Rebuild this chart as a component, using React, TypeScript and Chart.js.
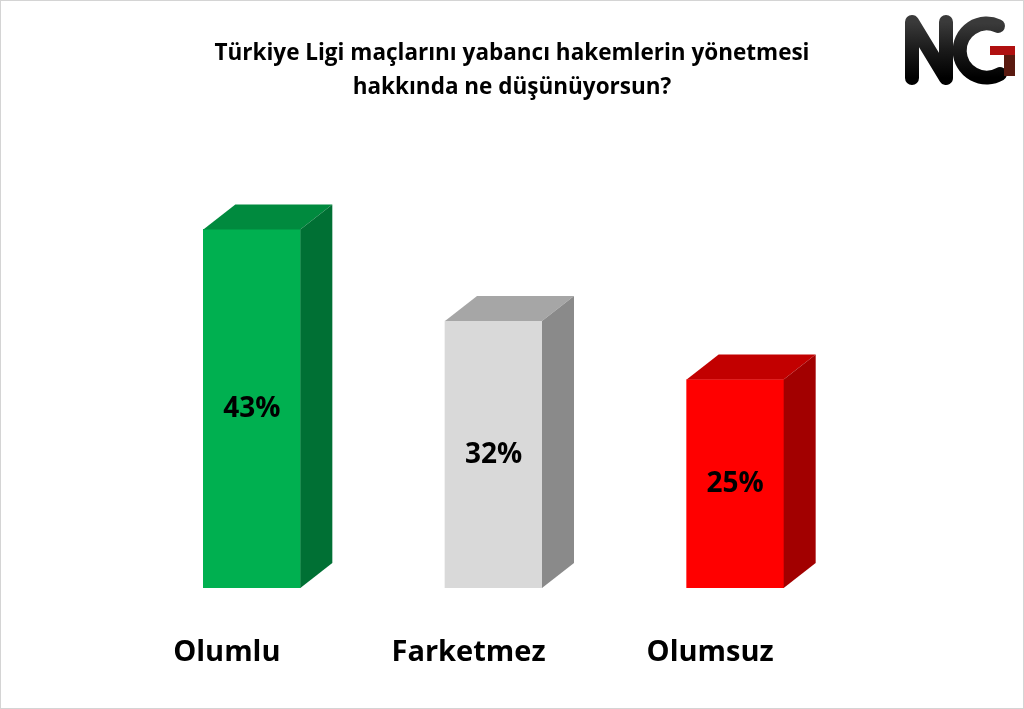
import React, { useEffect, useRef } from "react";
import { Chart, registerables } from "chart.js";

Chart.register(...registerables);

const categories = ["Olumlu", "Farketmez", "Olumsuz"];
const values = [43, 32, 25];
const valueLabels = ["43%", "32%", "25%"];
const frontColors = ["#00B050", "#D9D9D9", "#FF0000"];
const topColors = ["#008A3E", "#A6A6A6", "#C20000"];
const sideColors = ["#007034", "#8A8A8A", "#A20000"];
const titleLines = [
  "Türkiye Ligi maçlarını yabancı hakemlerin yönetmesi",
  "hakkında ne düşünüyorsun?",
];

const FONT = "'Open Sans', 'DejaVu Sans', sans-serif";

const bar3d = {
  id: "bar3d",
  afterDatasetsDraw(chart: any) {
    const ctx = chart.ctx;
    const meta = chart.getDatasetMeta(0);
    const dx = 32;
    const dy = -25;
    meta.data.forEach((el: any, i: number) => {
      const { x, y, base, width } = el.getProps(["x", "y", "base", "width"], true);
      const l = x - width / 2;
      const r = x + width / 2;
      ctx.save();
      ctx.fillStyle = topColors[i];
      ctx.beginPath();
      ctx.moveTo(l, y);
      ctx.lineTo(l + dx, y + dy);
      ctx.lineTo(r + dx, y + dy);
      ctx.lineTo(r, y);
      ctx.closePath();
      ctx.fill();
      ctx.fillStyle = sideColors[i];
      ctx.beginPath();
      ctx.moveTo(r, y);
      ctx.lineTo(r + dx, y + dy);
      ctx.lineTo(r + dx, base + dy);
      ctx.lineTo(r, base);
      ctx.closePath();
      ctx.fill();
      ctx.fillStyle = "#000";
      ctx.font = `bold 28px ${FONT}`;
      ctx.textAlign = "center";
      ctx.textBaseline = "middle";
      ctx.fillText(valueLabels[i], x, (y + base) / 2);
      ctx.restore();
    });
  },
};

function Logo() {
  return (
    <svg
      width={130}
      height={100}
      viewBox="0 0 130 100"
      style={{ position: "absolute", left: 894, top: 0 }}
    >
      <defs>
        <linearGradient id="blk" x1="0" y1="0" x2="0" y2="1">
          <stop offset="0" stopColor="#3a3a3a" />
          <stop offset="0.5" stopColor="#1a1a1a" />
          <stop offset="1" stopColor="#000" />
        </linearGradient>
      </defs>
      <polyline
        points="18,78 18,22 52,78 52,22"
        fill="none"
        stroke="url(#blk)"
        strokeWidth={14}
        strokeLinecap="round"
        strokeLinejoin="round"
      />
      <path
        d="M 104 26 A 27 27 0 1 0 106 74"
        fill="none"
        stroke="url(#blk)"
        strokeWidth={14}
        strokeLinecap="round"
      />
      <path d="M 96 46 L 121 46 L 121 55 L 96 55 Z" fill="#b01010" />
      <path d="M 110 55 L 121 55 L 121 76 L 110 76 Z" fill="#5a1a10" />
    </svg>
  );
}

export default function App() {
  const ref = useRef<HTMLCanvasElement | null>(null);
  useEffect(() => {
    document.body.style.margin = "0";
    if (!ref.current) return;
    const chart = new Chart(ref.current, {
      type: "bar",
      data: {
        labels: categories,
        datasets: [
          {
            data: values,
            backgroundColor: frontColors,
            borderWidth: 0,
            barThickness: 97,
          },
        ],
      },
      plugins: [bar3d],
      options: {
        responsive: false,
        animation: false,
        layout: { padding: { left: 131, right: 168, top: 171, bottom: 0 } },
        plugins: {
          legend: { display: false },
          tooltip: { enabled: false },
          title: { display: false },
        },
        scales: {
          x: {
            grid: { display: false, drawTicks: false },
            border: { display: false },
            ticks: {
              color: "#000",
              font: { family: FONT, size: 29, weight: "bold" },
              padding: 47,
              labelOffset: -25,
              maxRotation: 0,
            },
            afterFit: (scale: any) => {
              scale.height = 121;
            },
          },
          y: {
            display: false,
            min: 0,
            max: 50,
          },
        },
      },
    });
    return () => chart.destroy();
  }, []);

  return (
    <div
      style={{
        position: "fixed",
        left: 0,
        top: 0,
        width: 1024,
        height: 709,
        background: "#fff",
        overflow: "hidden",
      }}
    >
      <canvas
        ref={ref}
        width={1024}
        height={709}
        style={{ position: "absolute", left: 0, top: 0 }}
      />
      <div
        style={{
          position: "absolute",
          left: 0,
          top: 35,
          width: 1024,
          textAlign: "center",
          fontFamily: FONT,
          fontWeight: "bold",
          fontSize: 22.5,
          lineHeight: "34px",
          color: "#000",
        }}
      >
        {titleLines.map((t, i) => (
          <div key={i}>{t}</div>
        ))}
      </div>
      <Logo />
      <div
        style={{
          position: "absolute",
          left: 0,
          top: 0,
          width: 1024,
          height: 709,
          boxSizing: "border-box",
          border: "1px solid #d4d4d4",
          pointerEvents: "none",
        }}
      />
    </div>
  );
}
